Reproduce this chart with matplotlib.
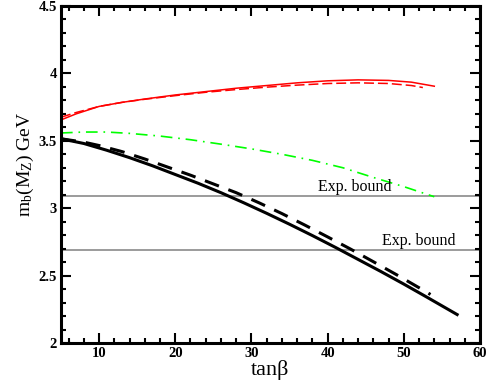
import numpy as np
import matplotlib
matplotlib.use("Agg")
import matplotlib.pyplot as plt
from matplotlib.ticker import MultipleLocator, FixedLocator

plt.rcParams["font.family"] = ["Liberation Serif", "DejaVu Serif"]
plt.rcParams["mathtext.fontset"] = "custom"
plt.rcParams["mathtext.rm"] = "Liberation Serif"
plt.rcParams["mathtext.it"] = "Liberation Serif:italic"

# black solid
tb_black = [5, 8, 11, 14, 17, 20, 23, 26, 29, 32, 35, 38, 41, 44, 47, 50, 53, 57]
mb_black = [3.515, 3.48, 3.43, 3.375, 3.315, 3.25, 3.185, 3.115, 3.04, 2.962,
            2.881, 2.797, 2.71, 2.62, 2.53, 2.437, 2.341, 2.211]

# black dashed
tb_black_d = [5, 8, 10, 13, 16, 19, 22, 25, 28, 31, 34, 37, 40, 43, 46, 49, 52, 53.5]
mb_black_d = [3.515, 3.49, 3.465, 3.42, 3.365, 3.305, 3.245, 3.18, 3.115, 3.04,
              2.96, 2.875, 2.787, 2.697, 2.603, 2.508, 2.41, 2.36]

# red solid
tb_red = [5, 7, 10, 13, 16, 20, 24, 28, 32, 36, 40, 44, 48, 51, 54]
mb_red = [3.655, 3.70, 3.755, 3.785, 3.81, 3.84, 3.865, 3.89, 3.91, 3.93,
          3.945, 3.952, 3.948, 3.935, 3.905]

# red dashed
tb_red_d = [5, 7, 10, 13, 16, 20, 24, 28, 32, 36, 40, 44, 48, 51, 52.5]
mb_red_d = [3.675, 3.71, 3.755, 3.785, 3.808, 3.835, 3.86, 3.88, 3.898, 3.913,
            3.925, 3.93, 3.925, 3.91, 3.895]

# green dash-dot
tb_green = [5, 8, 11, 14, 18, 22, 26, 30, 34, 38, 42, 46, 50, 54]
mb_green = [3.558, 3.565, 3.565, 3.555, 3.535, 3.508, 3.475, 3.44, 3.40, 3.355,
            3.30, 3.228, 3.16, 3.085]

bounds = [3.09, 2.69]
bound_text_x = [38.8, 47.1]
bound_text_y = [3.157, 2.757]

fig = plt.figure(figsize=(4.91, 3.82), dpi=100)
ax = fig.add_axes([0.1242, 0.1021, 0.8534, 0.8822])

for b in bounds:
    ax.axhline(b, color="#808080", linewidth=1.1, zorder=1)
for x, y in zip(bound_text_x, bound_text_y):
    ax.text(x, y, "Exp. bound", fontsize=11.5, ha="left", va="center")

ax.plot(tb_red, mb_red, color="red", linewidth=1.1)
ax.plot(tb_red_d, mb_red_d, color="red", linewidth=1.1, linestyle=(0, (6.5, 2.6)))
ax.plot(tb_green, mb_green, color="#00ff00", linewidth=1.2,
        linestyle=(0, (7, 3.5, 1, 3.5)))
ax.plot(tb_black, mb_black, color="black", linewidth=2.2)
ax.plot(tb_black_d, mb_black_d, color="black", linewidth=2.2, linestyle=(0, (4.9, 3.3)))

ax.set_xlim(5, 60)
ax.set_ylim(2, 4.5)
ax.xaxis.set_major_locator(FixedLocator([10, 20, 30, 40, 50, 60]))
ax.xaxis.set_minor_locator(MultipleLocator(2))
ax.yaxis.set_major_locator(FixedLocator([2, 2.5, 3, 3.5, 4, 4.5]))
ax.yaxis.set_minor_locator(MultipleLocator(0.1))
ax.set_xticklabels(["10", "20", "30", "40", "50", "60"], fontweight="bold", fontsize=10.5)
ax.set_yticklabels(["2", "2.5", "3", "3.5", "4", "4.5"], fontweight="bold", fontsize=10.5)

ax.tick_params(which="both", direction="in", top=True, right=True, width=1.5)
ax.tick_params(which="major", length=7, pad=3)
ax.tick_params(which="minor", length=3.5)
for sp in ax.spines.values():
    sp.set_linewidth(2.2)

ax.set_xlabel("tanβ", fontsize=16, labelpad=0)
ax.set_ylabel(r"$\mathrm{m_b(M_Z)\ GeV}$", fontsize=14)
ax.yaxis.set_label_coords(-0.06, 0.53)

fig.savefig("out.png", dpi=100)
